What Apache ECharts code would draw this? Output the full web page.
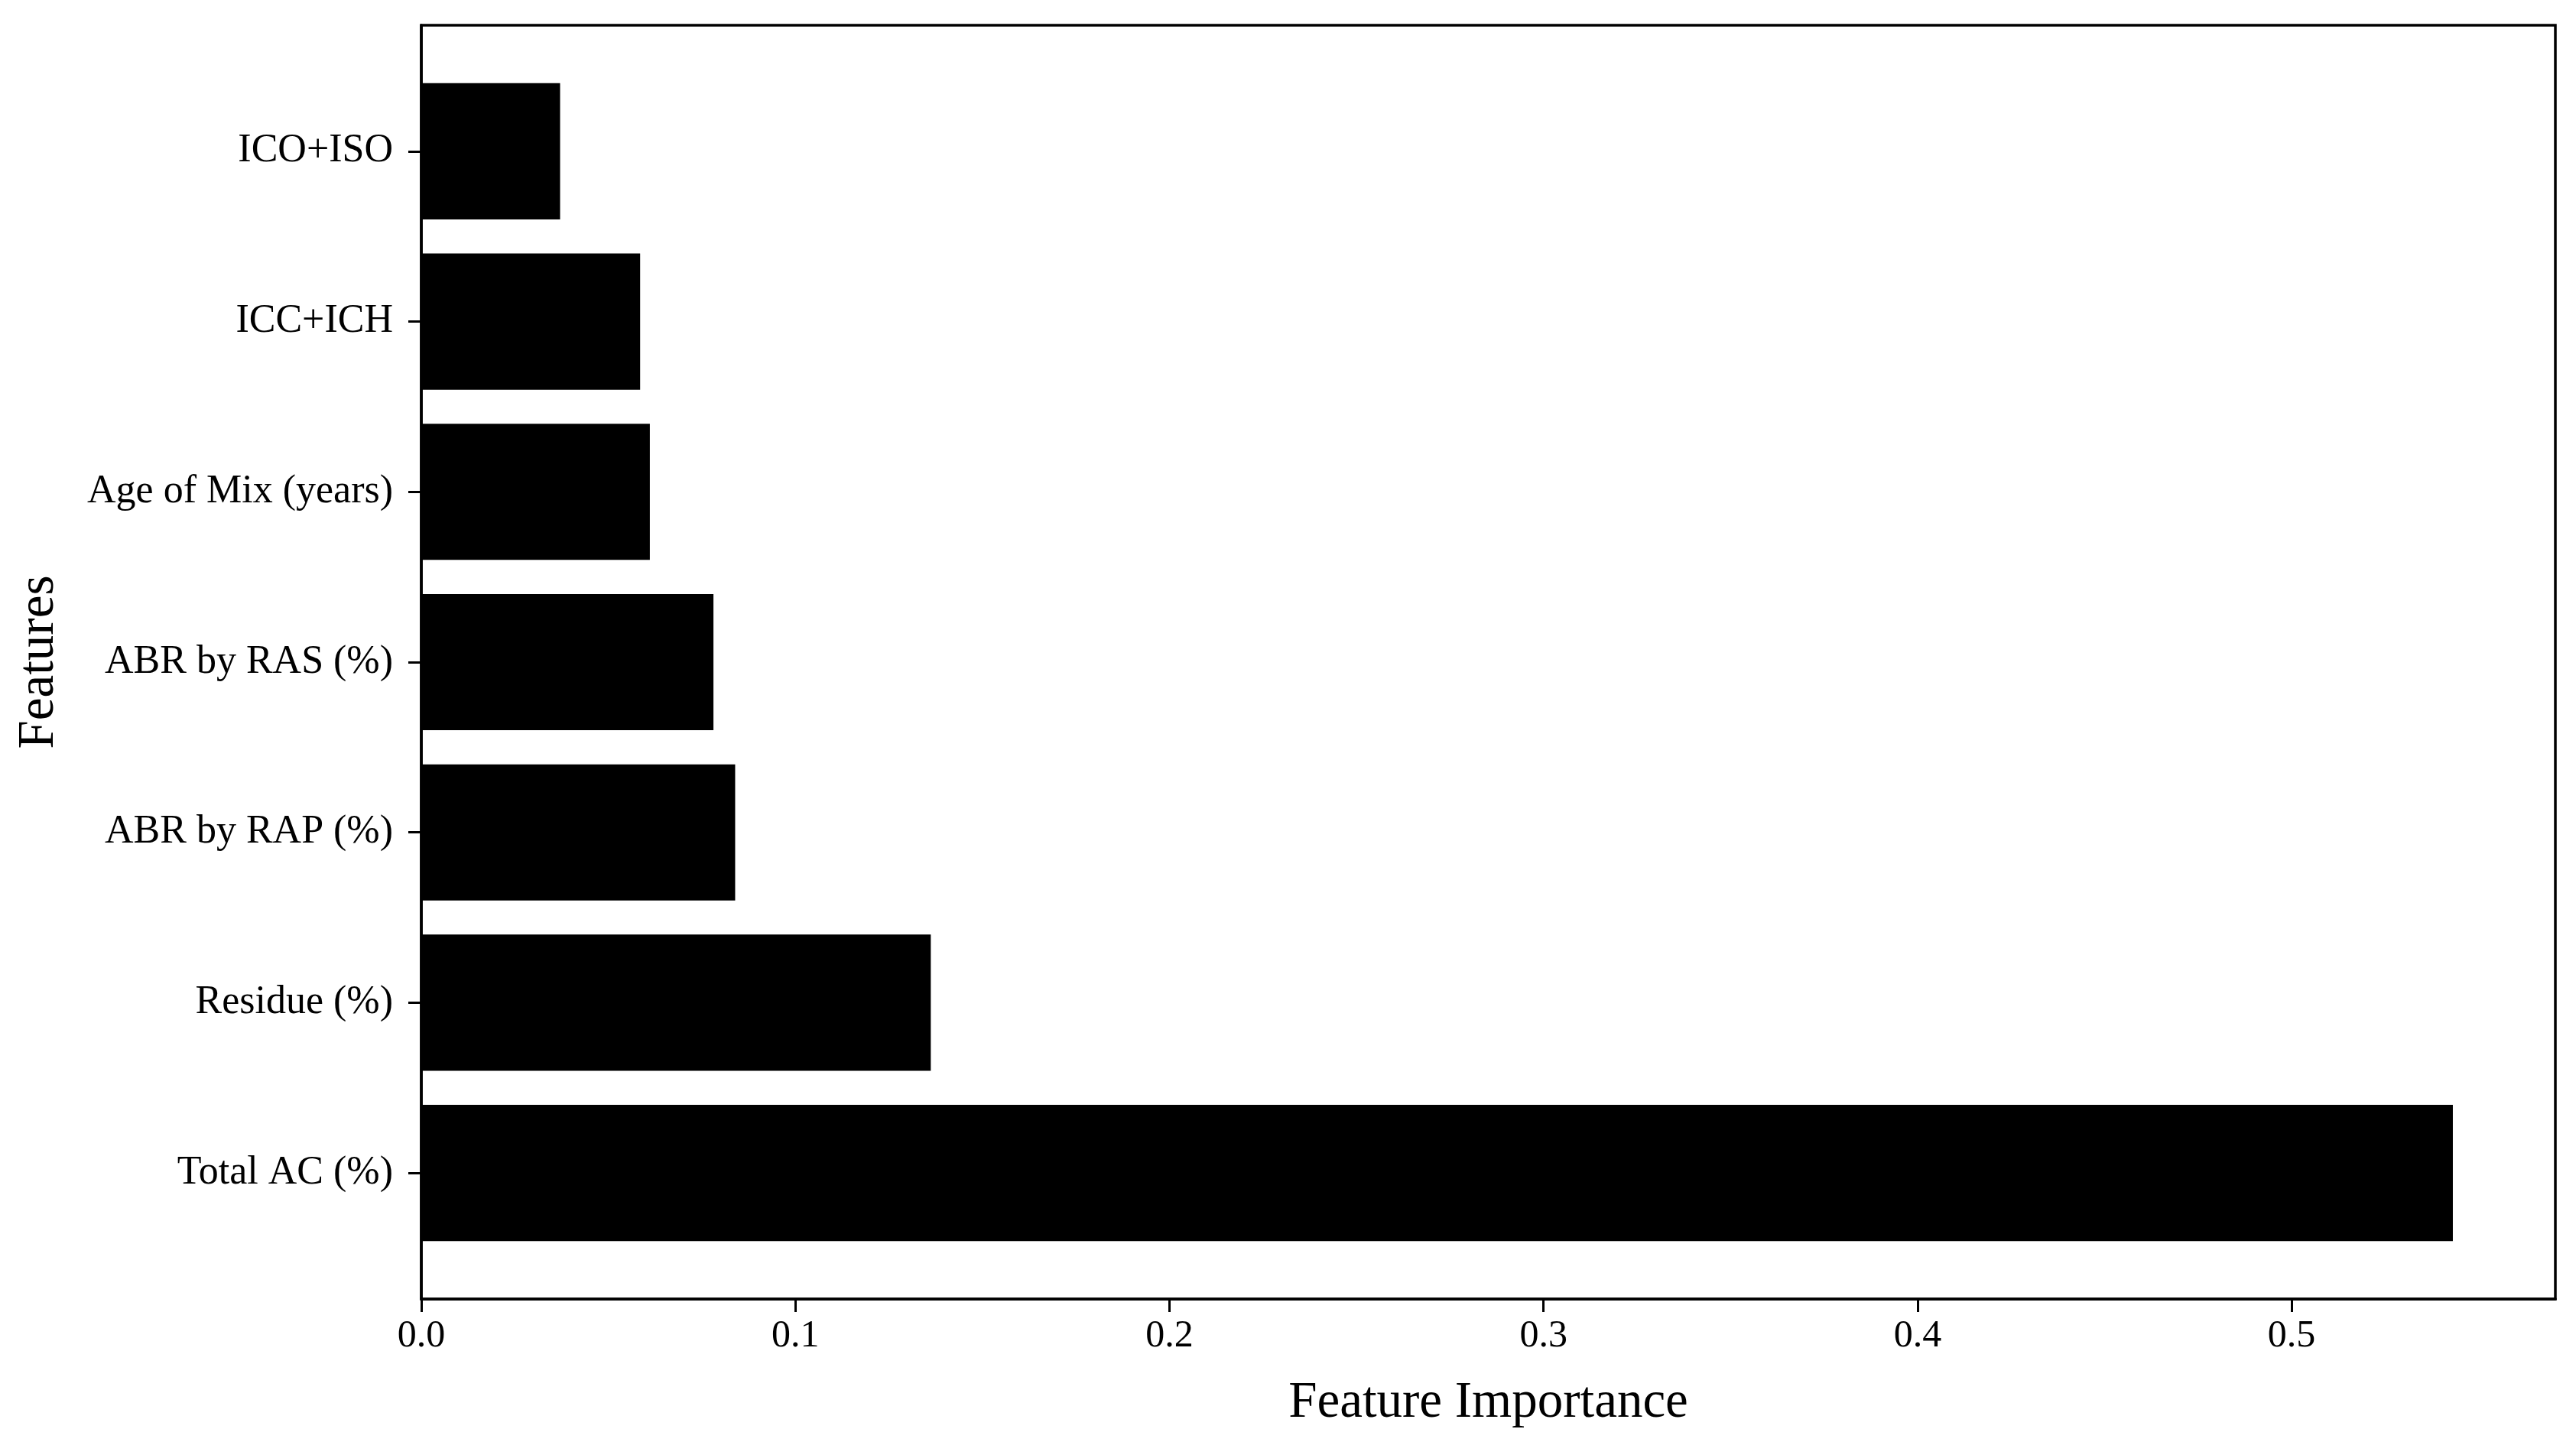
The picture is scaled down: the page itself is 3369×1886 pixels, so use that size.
<!DOCTYPE html>
<html>
<head>
<meta charset="utf-8">
<script src="https://cdn.jsdelivr.net/npm/echarts@6/dist/echarts.min.js"></script>
<style>
  html, body { margin: 0; padding: 0; background: #fff; }
  #main { width: 3369px; height: 1886px; }
</style>
</head>
<body>
<div id="main"></div>
<script>
// features, bottom to top
var features = ['Total AC (%)', 'Residue (%)', 'ABR by RAP (%)', 'ABR by RAS (%)', 'Age of Mix (years)', 'ICC+ICH', 'ICO+ISO'];
var importance = [0.5431, 0.1362, 0.0839, 0.0781, 0.0611, 0.0585, 0.0371];
var xTicks = [0, 0.1, 0.2, 0.3, 0.4, 0.5];
var yTicks = [0, 1, 2, 3, 4, 5, 6];

var font = '"Liberation Serif", "DejaVu Serif", serif';

var chart = echarts.init(document.getElementById('main'));

chart.setOption({
  animation: false,
  backgroundColor: '#fff',
  grid: {
    left: 551, right: 27, top: 33, bottom: 187,
    outerBoundsMode: 'none',
    containLabel: false,
    show: true, borderColor: '#000', borderWidth: 3.5, backgroundColor: 'transparent'
  },
  xAxis: {
    type: 'value',
    min: 0,
    max: 0.5705,
    name: 'Feature Importance',
    nameLocation: 'middle',
    nameGap: 103,
    nameMoveOverlap: false,
    nameTextStyle: { fontFamily: font, fontSize: 67, color: '#000' },
    axisLine: { show: true, onZero: false, lineStyle: { color: '#000', width: 3.5 } },
    axisTick: { show: true, inside: false, length: 17, lineStyle: { color: '#000', width: 3 }, customValues: xTicks },
    axisLabel: {
      customValues: xTicks,
      margin: 24,
      fontFamily: font, fontSize: 50, color: '#000',
      formatter: function (v) { return v.toFixed(1); }
    },
    splitLine: { show: false }
  },
  yAxis: {
    type: 'value',
    min: -0.74,
    max: 6.74,
    name: 'Features',
    nameLocation: 'middle',
    nameGap: 466,
    nameMoveOverlap: false,
    nameRotate: 90,
    nameTextStyle: { fontFamily: font, fontSize: 67, color: '#000' },
    axisLine: { show: true, onZero: false, lineStyle: { color: '#000', width: 3.5 } },
    axisTick: { show: true, inside: false, length: 17, lineStyle: { color: '#000', width: 3 }, customValues: yTicks },
    axisLabel: {
      customValues: yTicks,
      margin: 37,
      fontFamily: font, fontSize: 52, color: '#000',
      formatter: function (v) { return features[Math.round(v)] || ''; }
    },
    splitLine: { show: false }
  },
  series: [{
    type: 'custom',
    data: importance.map(function (v, i) { return [v, i]; }),
    encode: { x: 0, y: 1 },
    renderItem: function (params, api) {
      var start = api.coord([0, api.value(1)]);
      var end = api.coord([api.value(0), api.value(1)]);
      var h = api.size([0, 0.8])[1];
      return {
        type: 'rect',
        shape: { x: start[0], y: start[1] - h / 2, width: end[0] - start[0], height: h },
        style: { fill: '#000' }
      };
    }
  }]
});
</script>
</body>
</html>
